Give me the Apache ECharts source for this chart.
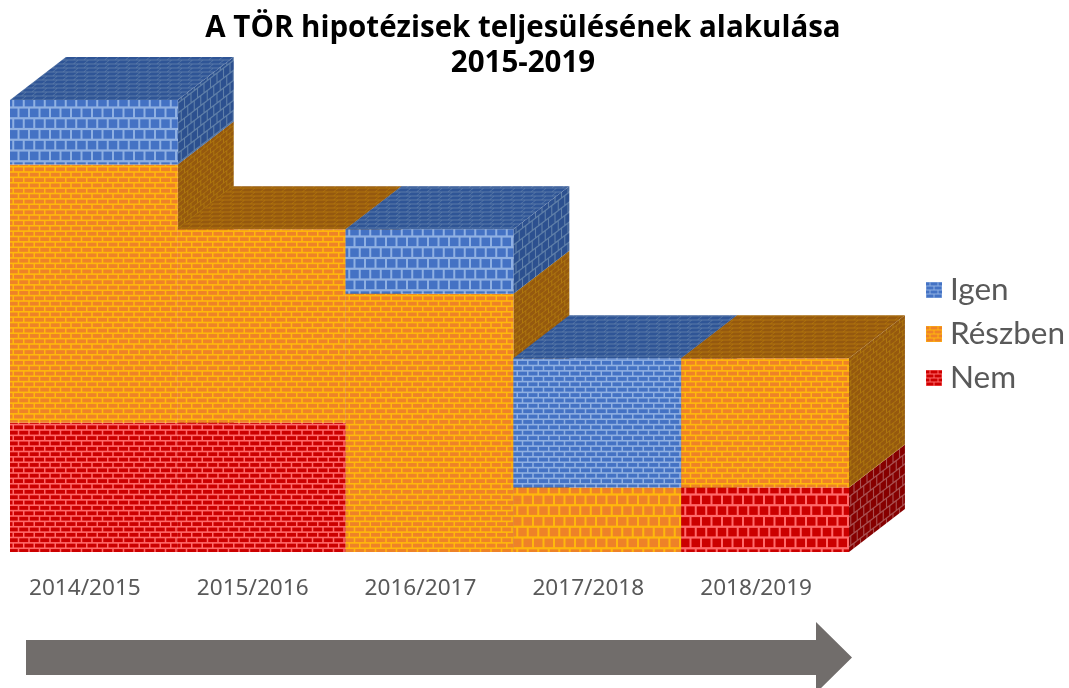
<!DOCTYPE html>
<html><head><meta charset="utf-8">
<style>html,body{margin:0;padding:0;background:#fff}#c{width:1069px;height:688px}</style>
<script src="https://cdn.jsdelivr.net/npm/echarts@6/dist/echarts.min.js"></script>
</head><body><div id="c"></div>
<script>
const categories = ['2014/2015','2015/2016','2016/2017','2017/2018','2018/2019'];
const nem     = [2,2,0,0,1];
const reszben = [4,3,4,1,2];
const igen    = [1,0,1,2,0];
const seriesNames = ['Nem','Részben','Igen'];
const seriesValues = [nem,reszben,igen];
const legendOrder = ['Igen','Részben','Nem'];

const palette = {
  Igen:    {front:['#4472c4','#8fb0e2'], side:['#2c508f','#5f7fa8'], top:['#2f5596','#5a7aa8']},
  'Részben':{front:['#ee8228','#ffb80c'], side:['#95590f','#ad760f'], top:['#95590f','#b0750e']},
  Nem:     {front:['#cc0000','#ff6a6a'], side:['#860000','#a85050'], top:['#860000','#b25a5a']}
};

function tile(w,h,draw){const c=document.createElement('canvas');c.width=w;c.height=h;draw(c.getContext('2d'));return {image:c,repeat:'repeat'};}
function bricks(ctx,bw,rh,mv,mh,xr,yr,col){
  ctx.fillStyle=col[1];ctx.fillRect(-xr,-yr,xr*3,yr*3);
  ctx.fillStyle=col[0];
  let n=Math.round(-yr/rh);
  for(let r=n;r*rh<yr*2;r++){
    const off=(r%2===0)?0:bw/2;
    for(let x=-xr*2+off;x<xr*2;x+=bw){ctx.fillRect(x+mv/2,r*rh+mh/2,bw-mv,rh-mh);}
  }
}
const frontTile=(col,rh,mv,mh)=>tile(21,43,ctx=>bricks(ctx,10.5,rh,mv,mh,80,80,col));
const sideTile=(col,rh,mv,mh)=>tile(26,20,ctx=>{ctx.transform(1,-20/26,0,1,0,0);bricks(ctx,6.5,rh,mv,mh,80,120,col);});
const topTile=(col)=>tile(52,40,ctx=>{ctx.transform(1,0,-1.3,1,0,0);bricks(ctx,10.4,4,1,1,200,100,col);});

const patterns={};
seriesNames.forEach(n=>{const p=palette[n];patterns[n]={
  frontL:frontTile(p.front,10.75,2,2.2),frontS:frontTile(p.front,5.375,1.5,1.6),
  sideL:sideTile(p.side,10,1.1,1.6),sideS:sideTile(p.side,5,1,1.1),
  top:topTile(p.top),
  legend:tile(16,16,ctx=>bricks(ctx,8,4,1,1,30,30,p.front))};});

function renderFor(sIdx){
  const name=seriesNames[sIdx];
  return function(params,api){
    const i=api.value(0),b=api.value(1),t=api.value(2);
    if(t<=b) return null;
    const bw=api.size([1,0])[0];
    const dx=bw/3, dy=-bw*0.256;
    const pb=api.coord([i,b]),pt=api.coord([i,t]);
    const x0=pb[0]-bw/2,x1=pb[0]+bw/2,yb=pb[1],yt=pt[1];
    const large=(t-b)===1;
    const P=patterns[name];
    const z=i*10+sIdx;
    const kids=[
      {type:'polygon',z2:z,shape:{points:[[x1,yb],[x1+dx,yb+dy],[x1+dx,yt+dy],[x1,yt]]},style:{fill:large?P.sideL:P.sideS}},
      {type:'rect',z2:z,shape:{x:x0,y:yt,width:bw,height:yb-yt},style:{fill:large?P.frontL:P.frontS}}
    ];
    const above=seriesValues.slice(sIdx+1).reduce((s,a)=>s+a[i],0);
    if(above===0) kids.push({type:'polygon',z2:z,shape:{points:[[x0,yt],[x1,yt],[x1+dx,yt+dy],[x0+dx,yt+dy]]},style:{fill:P.top}});
    return {type:'group',children:kids};
  };
}
const series=seriesNames.map((n,s)=>({
  type:'custom',name:n,renderItem:renderFor(s),silent:true,
  itemStyle:{color:patterns[n].legend},
  encode:{x:0,y:[1,2]},
  data:categories.map((c,i)=>{
    const base=seriesValues.slice(0,s).reduce((a,v)=>a+v[i],0);
    return [i,base,base+seriesValues[s][i]];
  })
}));
const chart=echarts.init(document.getElementById('c'),null,{renderer:'canvas'});
chart.setOption({
  animation:false,
  title:{text:'A TÖR hipotézisek teljesülésének alakulása\n2015-2019',left:518,textAlign:'center',top:6,
    textStyle:{fontFamily:'Open Sans',fontWeight:'bold',fontSize:29.5,lineHeight:35,color:'#000'}},
  grid:{left:10,right:220,top:100,bottom:136},
  xAxis:{type:'category',data:categories,axisLine:{show:false},axisTick:{show:false},splitLine:{show:false},
    axisLabel:{color:'#595959',fontFamily:'Noto Sans',fontSize:22.6,margin:25,interval:0,padding:[0,18,0,0]}},
  yAxis:{type:'value',min:0,max:7,show:false},
  legend:{data:legendOrder,orient:'vertical',left:921,top:268,itemWidth:16,itemHeight:16,itemGap:10,icon:'rect',
    selectedMode:false,textStyle:{color:'#595959',fontFamily:'Lato',fontSize:31.5,lineHeight:34,padding:[0,0,0,3]}},
  graphic:[{type:'polygon',silent:true,shape:{points:[[26,640],[816,640],[816,622],[852,657.5],[816,693],[816,675],[26,675]]},style:{fill:'#716d6b'}}],
  series
});
</script></body></html>
